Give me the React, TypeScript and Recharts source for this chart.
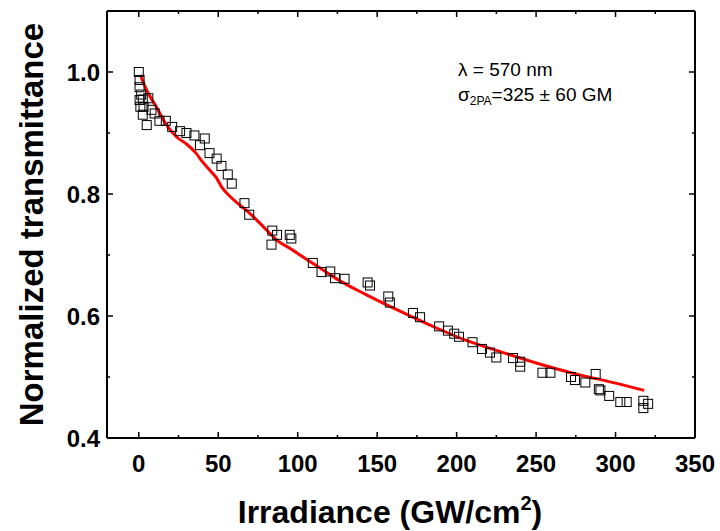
import React from "react";
import { ComposedChart, Scatter, Line, XAxis, YAxis, Customized } from "recharts";

// measured points (irradiance GW/cm^2, normalized transmittance)
const measuredX = [
  0, 0.5, 0.5, 1.5, 0.5, 1, 2.5, 3, 2.5, 5, 6, 8, 10, 13, 17, 21, 26, 30, 35, 38.5,
  41.5, 44.5, 49, 52, 56, 58.5, 66.5, 69.5, 83.5, 84, 87, 95, 96, 109.5, 115, 120.5,
  123.5, 129.5, 144, 145.5, 157, 158, 172.5, 177, 189, 194.5, 198.5, 201.5, 210, 216,
  221, 225, 235.5, 240, 240, 254, 259, 272, 274.5, 281, 287.5, 289.5, 290.5, 296, 303,
  307, 317.5, 320.5, 317.5,
];
const measuredY = [
  1.0, 0.987, 0.975, 0.963, 0.954, 0.943, 0.955, 0.943, 0.93, 0.913, 0.957, 0.938, 0.932,
  0.92, 0.92, 0.91, 0.903, 0.9, 0.896, 0.88, 0.891, 0.867, 0.858, 0.846, 0.832, 0.817,
  0.785, 0.766, 0.717, 0.74, 0.733, 0.733, 0.727, 0.687, 0.672, 0.673, 0.662, 0.661,
  0.655, 0.65, 0.632, 0.622, 0.605, 0.598, 0.583, 0.576, 0.571, 0.566, 0.557, 0.546,
  0.54, 0.532, 0.531, 0.525, 0.517, 0.507, 0.507, 0.5, 0.495, 0.491, 0.505, 0.48, 0.478,
  0.469, 0.459, 0.459, 0.461, 0.456, 0.449,
];

// 2PA fit curve
const fitX = [1, 5, 11, 17, 24, 30, 36, 40, 45, 49, 52, 57, 64, 70, 80, 87, 95, 105, 115, 125, 143, 165, 185, 206, 227, 250, 275, 300, 318];
const fitY = [
  0.995, 0.97, 0.943, 0.915, 0.893, 0.882, 0.867, 0.853, 0.838, 0.826, 0.812, 0.797, 0.781,
  0.768, 0.742, 0.724, 0.711, 0.694, 0.677, 0.66, 0.635, 0.607, 0.583, 0.56, 0.542, 0.523,
  0.505, 0.49, 0.478,
];

const xTicks = [0, 25, 50, 75, 100, 125, 150, 175, 200, 225, 250, 275, 300, 325, 350];
const xLabelTicks = [0, 50, 100, 150, 200, 250, 300, 350];
const yTicks = [0.4, 0.5, 0.6, 0.7, 0.8, 0.9, 1.0, 1.1];
const yLabelTicks = [0.4, 0.6, 0.8, 1.0];

const measured = measuredX.map((x, i) => ({ x, y: measuredY[i] }));
const fit = fitX.map((x, i) => ({ x, y: fitY[i] }));

const FONT = "'Liberation Sans', Arial, sans-serif";
const isMajor = (list: number[], v: number) => list.some((t) => Math.abs(t - v) < 1e-6);

const BottomTick = (props: any) => {
  const { x, y, payload } = props;
  const major = isMajor(xLabelTicks, payload.value);
  return (
    <g>
      <line x1={x} x2={x} y1={y} y2={y - (major ? 6 : 3)} stroke="#000" strokeWidth={1.5} />
      {major && (
        <text x={x} y={y + 34} textAnchor="middle" fontFamily={FONT} fontWeight="bold" fontSize={24} fill="#000">
          {payload.value}
        </text>
      )}
    </g>
  );
};

const TopTick = (props: any) => {
  const { x, y, payload } = props;
  const major = isMajor(xLabelTicks, payload.value);
  return <line x1={x} x2={x} y1={y} y2={y + (major ? 6 : 3)} stroke="#000" strokeWidth={1.5} />;
};

const LeftTick = (props: any) => {
  const { x, y, payload } = props;
  const major = isMajor(yLabelTicks, payload.value);
  return (
    <g>
      <line x1={x} x2={x + (major ? 6 : 3)} y1={y} y2={y} stroke="#000" strokeWidth={1.5} />
      {major && (
        <text x={x - 7} y={y + 8.5} textAnchor="end" fontFamily={FONT} fontWeight="bold" fontSize={24} fill="#000">
          {payload.value.toFixed(1)}
        </text>
      )}
    </g>
  );
};

const RightTick = (props: any) => {
  const { x, y, payload } = props;
  const major = isMajor(yLabelTicks, payload.value);
  return <line x1={x} x2={x - (major ? 6 : 3)} y1={y} y2={y} stroke="#000" strokeWidth={1.5} />;
};

const XTitle = ({ viewBox }: any) => (
  <text x={viewBox.x + viewBox.width / 2 - 11} y={viewBox.y + 85} textAnchor="middle" fontFamily={FONT} fontWeight="bold" fontSize={32} fill="#000">
    Irradiance (GW/cm
    <tspan fontSize={20} dy={-13}>2</tspan>
    <tspan dy={13}>)</tspan>
  </text>
);

const YTitle = ({ viewBox }: any) => {
  const cx = viewBox.x - 4;
  const cy = viewBox.y + viewBox.height / 2;
  return (
    <text x={cx} y={cy} transform={`rotate(-90 ${cx} ${cy})`} textAnchor="middle" fontFamily={FONT} fontWeight="bold" fontSize={33} fill="#000">
      Normalized transmittance
    </text>
  );
};

const Annotation = () => (
  <g fontFamily={FONT} fontSize={19} fill="#000">
    <text x={458} y={76}>λ = 570 nm</text>
    <text x={458} y={101}>
      σ<tspan fontSize={12} dy={4}>2PA</tspan>
      <tspan dy={-4}>=325 ± 60 GM</tspan>
    </text>
  </g>
);

const Square = (props: any) => {
  const { cx, cy } = props;
  if (cx == null || cy == null) return null;
  return <rect x={cx - 4.5} y={cy - 4.5} width={9} height={9} fill="none" stroke="#000" strokeWidth={1} />;
};

export default function App() {
  const axisLine = { stroke: "#000", strokeWidth: 2 };
  return (
    <div style={{ position: "absolute", left: 0, top: 0, width: 720, height: 531, background: "#fff" }}>
      <ComposedChart width={720} height={531} margin={{ top: 6, right: 20, bottom: 33, left: 47 }}>
        <XAxis
          xAxisId="b"
          dataKey="x"
          type="number"
          domain={[-20, 350]}
          ticks={xTicks}
          interval={0}
          allowDataOverflow
          height={60}
          tickSize={0}
          tickMargin={0}
          tickLine={false}
          axisLine={axisLine}
          tick={<BottomTick />}
          label={<XTitle />}
        />
        <XAxis
          xAxisId="t"
          orientation="top"
          dataKey="x"
          type="number"
          domain={[-20, 350]}
          ticks={xTicks}
          interval={0}
          allowDataOverflow
          height={5}
          tickSize={0}
          tickMargin={0}
          tickLine={false}
          axisLine={axisLine}
          tick={<TopTick />}
        />
        <YAxis
          yAxisId="l"
          dataKey="y"
          type="number"
          domain={[0.4, 1.1]}
          ticks={yTicks}
          interval={0}
          allowDataOverflow
          width={60}
          tickSize={0}
          tickMargin={0}
          tickLine={false}
          axisLine={axisLine}
          tick={<LeftTick />}
          label={<YTitle />}
        />
        <YAxis
          yAxisId="r"
          orientation="right"
          dataKey="y"
          type="number"
          domain={[0.4, 1.1]}
          ticks={yTicks}
          interval={0}
          allowDataOverflow
          width={5}
          tickSize={0}
          tickMargin={0}
          tickLine={false}
          axisLine={axisLine}
          tick={<RightTick />}
        />
        <Scatter xAxisId="b" yAxisId="l" data={measured} dataKey="y" shape={<Square />} isAnimationActive={false} />
        <Line
          xAxisId="b"
          yAxisId="l"
          data={fit}
          dataKey="y"
          type="monotone"
          stroke="#ff0000"
          strokeWidth={3}
          dot={false}
          activeDot={false}
          isAnimationActive={false}
        />
        <Customized component={<Annotation />} />
      </ComposedChart>
    </div>
  );
}
